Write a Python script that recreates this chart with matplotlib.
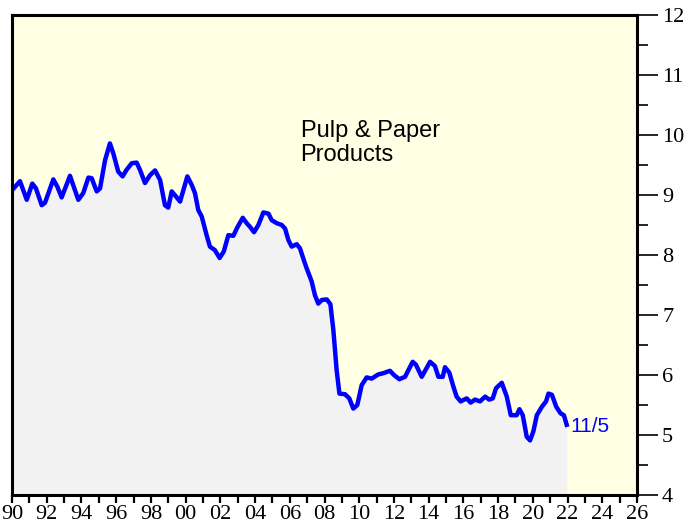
import numpy as np
import matplotlib
matplotlib.use("Agg")
import matplotlib.pyplot as plt
from matplotlib.ticker import MultipleLocator, FixedLocator

# values (year, index)
years = [1990.0, 1990.46, 1990.85, 1991.17, 1991.38, 1991.71, 1991.9, 1992.38,
         1992.61, 1992.86, 1993.34, 1993.82, 1994.1, 1994.4, 1994.59, 1994.88,
         1995.07, 1995.36, 1995.64, 1995.84, 1996.12, 1996.37, 1996.6, 1996.9,
         1997.18, 1997.37, 1997.66, 1997.95, 1998.24, 1998.53, 1998.81, 1999.0,
         1999.2, 1999.49, 1999.68, 1999.87, 2000.1, 2000.35, 2000.54, 2000.73,
         2000.93, 2001.21, 2001.4, 2001.69, 2001.96, 2002.2, 2002.46, 2002.75,
         2002.96, 2003.29, 2003.52, 2003.71, 2003.94, 2004.19, 2004.48, 2004.77,
         2004.96, 2005.25, 2005.54, 2005.73, 2005.92, 2006.11, 2006.4, 2006.59,
         2006.78, 2006.97, 2007.26, 2007.45, 2007.64, 2007.84, 2008.13, 2008.34,
         2008.51, 2008.7, 2008.86, 2009.18, 2009.43, 2009.66, 2009.89, 2010.14,
         2010.43, 2010.72, 2011.1, 2011.39, 2011.77, 2012.0, 2012.31, 2012.64,
         2012.83, 2013.08, 2013.27, 2013.6, 2014.08, 2014.36, 2014.56, 2014.81,
         2014.94, 2015.19, 2015.42, 2015.61, 2015.84, 2016.19, 2016.42, 2016.67,
         2016.96, 2017.25, 2017.49, 2017.69, 2017.88, 2018.21, 2018.5, 2018.73,
         2019.07, 2019.23, 2019.42, 2019.65, 2019.84, 2020.03, 2020.23, 2020.52,
         2020.76, 2020.9, 2021.1, 2021.35, 2021.6, 2021.79, 2021.95]
values = [9.08, 9.23, 8.92, 9.19, 9.11, 8.83, 8.87, 9.26,
          9.14, 8.96, 9.32, 8.92, 9.03, 9.29, 9.28, 9.06,
          9.11, 9.58, 9.86, 9.69, 9.39, 9.31, 9.42, 9.53,
          9.54, 9.42, 9.2, 9.33, 9.41, 9.25, 8.83, 8.79,
          9.06, 8.96, 8.89, 9.08, 9.31, 9.17, 9.03, 8.75,
          8.64, 8.33, 8.14, 8.08, 7.95, 8.06, 8.33, 8.32,
          8.45, 8.62, 8.53, 8.47, 8.38, 8.5, 8.71, 8.69,
          8.58, 8.53, 8.5, 8.44, 8.25, 8.14, 8.18, 8.11,
          7.94, 7.78, 7.56, 7.33, 7.19, 7.25, 7.26, 7.18,
          6.75, 6.08, 5.69, 5.68, 5.61, 5.44, 5.5, 5.83,
          5.96, 5.94, 6.01, 6.03, 6.07, 6.0, 5.93, 5.97,
          6.08, 6.22, 6.17, 5.97, 6.22, 6.15, 5.97, 5.97,
          6.13, 6.04, 5.81, 5.64, 5.56, 5.61, 5.54, 5.59,
          5.56, 5.64, 5.59, 5.61, 5.78, 5.87, 5.64, 5.33,
          5.33, 5.43, 5.33, 4.97, 4.91, 5.06, 5.33, 5.47,
          5.56, 5.69, 5.67, 5.47, 5.36, 5.33, 5.17]

title = "Pulp & Paper\nProducts"
last_label = "11/5"
x_ticks = list(range(1990, 2027))
x_labels = ["%02d" % (y % 100) if y % 2 == 0 else "" for y in x_ticks]
y_ticks = list(range(4, 13))

fig = plt.figure(figsize=(6.95, 5.27), dpi=100)
ax = fig.add_axes([12 / 695, 1 - 495 / 527, 625 / 695, 480 / 527])
ax.set_facecolor("#ffffe3")

ax.fill_between(years, values, 4, color="#f2f2f2", linewidth=0)
ax.plot(years, values, color="#0000ff", linewidth=3.2, solid_joinstyle="round")

ax.set_xlim(1990, 2026)
ax.set_ylim(4, 12)

for s in ax.spines.values():
    s.set_linewidth(2.2)
    s.set_color("black")

ax.xaxis.set_major_locator(FixedLocator(x_ticks))
ax.set_xticklabels(x_labels, fontfamily="Liberation Serif", fontsize=16)
ax.tick_params(axis="x", direction="out", length=6, width=1.6, pad=1)

ax.yaxis.tick_right()
ax.yaxis.set_major_locator(FixedLocator(y_ticks))
ax.yaxis.set_minor_locator(MultipleLocator(0.5))
ax.set_yticklabels([str(v) for v in y_ticks], fontfamily="Liberation Serif", fontsize=16)
ax.tick_params(axis="y", which="major", direction="out", length=15, width=1.2, pad=3)
ax.tick_params(axis="y", which="minor", direction="out", length=8, width=1.2)

ax.text(2006.62, 10.25, title, fontfamily="Liberation Sans", fontsize=17,
        ha="left", va="top", linespacing=1.12)
ax.text(years[-1] + 0.23, 5.14, last_label, color="#0000ff",
        fontfamily="Liberation Sans", fontsize=15, ha="left", va="center")

fig.savefig("out.png", dpi=100)
